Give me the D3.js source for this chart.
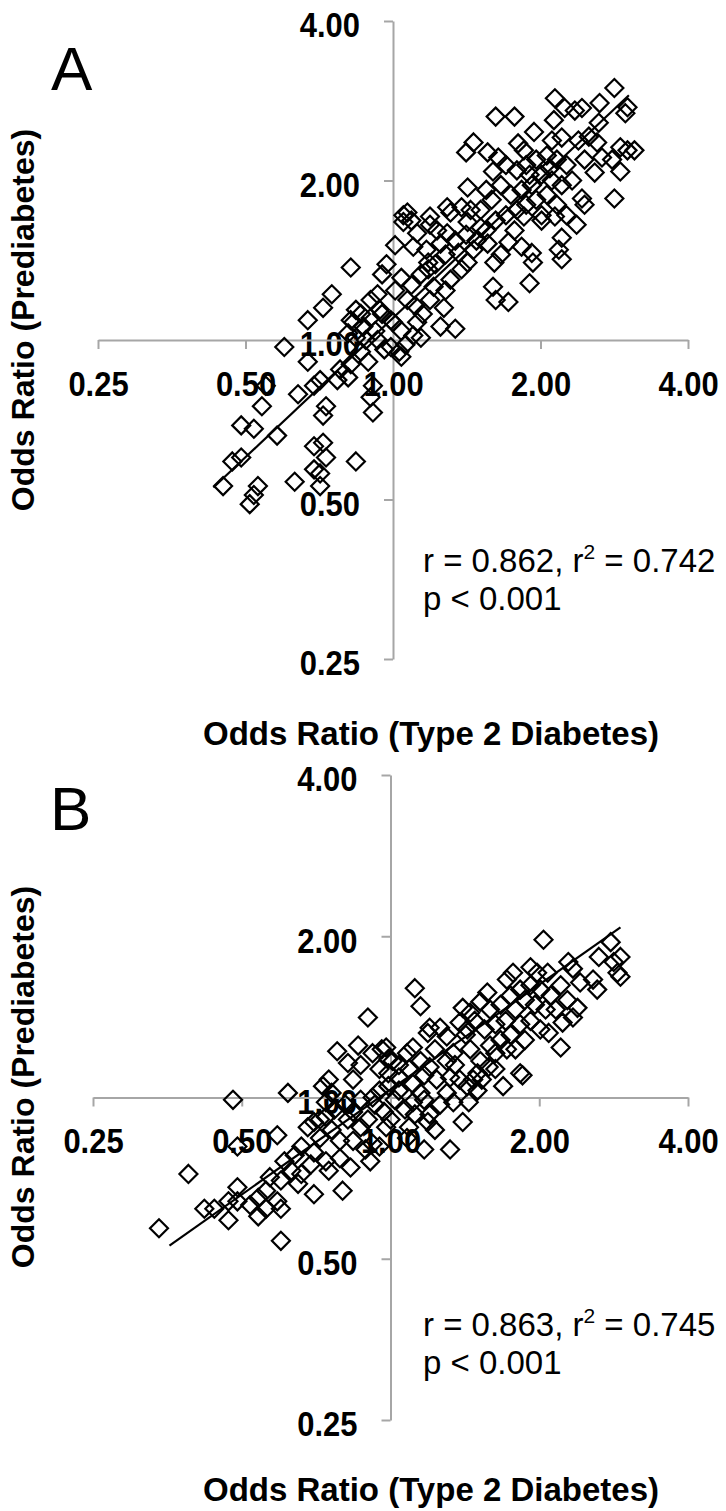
<!DOCTYPE html>
<html>
<head>
<meta charset="utf-8">
<script src="https://cdn.jsdelivr.net/npm/d3@7"></script>
<style>
  html, body { margin: 0; padding: 0; background: #fff; }
  svg { display: block; }
  text { font-family: "Liberation Sans", Arial, Helvetica, sans-serif; }
</style>
</head>
<body>
<svg id="chart" width="726" height="1511"></svg>
<script>
// ---------------- data ----------------
const tickValues = [0.25, 0.5, 1, 2, 4];
const tickLabels = ["0.25", "0.50", "1.00", "2.00", "4.00"];
const panelLabels = ["A", "B"];
const xTitle = "Odds Ratio (Type 2 Diabetes)";
const yTitle = "Odds Ratio (Prediabetes)";
const statsA = ["r = 0.862, r", "2", " = 0.742", "p < 0.001"];
const statsB = ["r = 0.863, r", "2", " = 0.745", "p < 0.001"];

// Panel A: odds ratios for type 2 diabetes (x) and prediabetes (y)
const t2dA = [2.83,2.14,1.62,1.77,2.24,2.43,2.35,2.64,3.01,2.98,
  2.13,2.63,1.94,1.46,1.41,1.56,1.64,1.80,1.85,2.11,
  2.21,2.39,2.51,2.61,2.91,3.01,3.11,2.46,2.67,2.80,
  2.58,2.91,1.60,1.42,2.43,2.83,1.07,1.19,1.29,1.38,
  1.70,1.79,1.87,1.96,2.06,2.16,2.26,2.01,2.11,1.92,
  1.83,1.74,1.66,2.21,2.32,2.06,1.96,1.87,1.79,1.70,
  1.59,1.51,1.62,2.16,2.26,2.01,2.37,2.09,1.90,1.55,
  0.82,0.97,0.95,1.04,1.05,1.09,1.05,1.19,1.12,1.10,
  1.18,1.18,1.25,1.29,1.31,1.42,1.36,1.42,1.46,1.51,
  1.56,1.61,1.66,1.72,1.77,1.83,1.92,1.93,1.85,2.01,
  2.14,2.21,2.18,2.21,2.46,1.60,1.90,1.62,1.72,1.34,
  1.27,1.21,1.31,1.15,1.12,1.14,0.90,0.86,0.83,0.81,
  0.94,0.99,1.04,1.07,1.25,1.09,1.14,1.22,1.28,1.34,
  1.41,1.48,1.55,1.38,1.28,1.19,1.11,1.01,0.93,1.17,
  1.23,1.44,1.01,0.60,0.67,0.72,0.75,0.67,0.55,0.54,
  0.49,0.52,0.58,0.47,0.49,0.45,0.53,0.52,0.51,0.63,
  0.69,0.72,0.73,0.69,0.71,0.71,0.84,0.64,0.69,0.71,
  0.73,0.72,0.77,0.78,0.81,0.82,0.86,0.89,0.91,0.90,
  0.91,0.84,0.87,0.90,0.95,1.00,0.99,1.04,0.93,0.82,
  0.84,1.06,1.03,1.10,0.96,0.92,0.88];
const preA = [2.99,2.86,2.64,2.64,2.74,2.74,2.71,2.80,2.75,2.68,
  2.60,2.57,2.47,2.36,2.26,2.26,2.21,2.35,2.28,2.38,
  2.41,2.38,2.42,2.36,2.31,2.28,2.28,2.19,2.21,2.19,
  2.07,2.08,2.08,1.94,1.85,1.85,1.74,1.71,1.78,1.78,
  2.14,2.09,2.14,2.19,2.23,2.19,2.14,2.05,2.00,1.96,
  1.92,1.88,1.96,1.96,2.00,1.88,1.84,1.80,1.76,1.72,
  1.84,1.76,1.68,1.80,1.72,1.72,1.65,2.11,2.05,1.92,
  1.37,1.39,1.33,1.31,1.72,1.68,1.67,1.65,1.59,1.50,
  1.40,1.36,1.52,1.59,1.74,1.67,1.46,1.40,1.48,1.63,
  1.52,1.40,1.45,1.53,1.61,1.50,1.46,1.40,1.71,1.68,
  1.71,1.56,1.48,1.42,1.80,1.26,1.28,1.19,1.18,1.05,
  1.15,1.26,1.30,1.12,1.08,1.01,1.19,1.12,1.08,1.03,
  1.14,1.09,1.04,1.19,1.06,1.27,1.33,1.39,1.45,1.54,
  1.58,1.54,1.61,1.36,1.24,1.19,1.16,1.24,1.22,1.48,
  1.61,1.76,1.51,0.97,1.09,1.15,1.22,0.91,0.82,0.75,
  0.69,0.68,0.66,0.59,0.60,0.53,0.53,0.51,0.49,0.54,
  0.63,0.64,0.60,0.57,0.56,0.53,0.59,0.79,0.82,0.84,
  0.75,0.72,0.84,0.88,0.85,0.90,0.95,0.91,0.82,0.78,
  0.73,1.01,1.06,1.10,1.12,1.08,0.97,0.93,1.00,1.09,
  1.14,0.98,0.95,1.02,0.96,1.04,1.00];
// power-law trendline (log2 space): [slope, intercept], drawn over [from, to]
const fitA = [0.873, 0.138];
const fitRangeA = [0.43, 3.03];

// Panel B
const t2dB = [2.04,1.12,1.15,2.29,2.34,2.64,2.79,2.92,2.83,2.88,
  2.92,2.57,2.62,2.42,2.21,1.92,1.98,1.77,1.72,2.08,
  1.57,1.52,1.40,1.45,2.28,2.39,2.34,2.23,2.09,2.21,
  1.83,1.69,1.63,1.72,1.50,1.53,1.59,1.67,1.75,1.83,
  1.92,2.01,2.11,1.87,1.79,1.71,1.63,1.55,1.48,1.96,
  2.06,1.92,1.83,1.75,1.67,1.59,2.01,1.87,1.79,1.42,
  2.16,1.45,1.52,1.20,1.19,1.26,1.30,1.38,1.43,1.11,
  1.08,0.98,1.01,1.15,1.20,1.30,1.34,1.24,1.32,1.04,
  1.11,1.43,1.50,1.15,1.30,1.85,1.63,1.44,1.40,1.32,
  1.17,1.23,1.19,1.20,1.09,1.08,0.97,0.91,1.11,1.17,
  1.26,1.34,1.47,1.58,0.90,0.78,0.82,0.86,0.87,0.92,
  0.96,0.99,0.95,0.99,0.75,0.73,0.76,0.84,0.92,0.95,
  0.99,0.48,0.62,0.59,0.49,0.39,0.34,0.44,0.47,0.49,
  0.49,0.54,0.54,0.56,0.59,0.60,0.57,0.60,0.63,0.66,
  0.69,0.70,0.80,0.68,0.70,0.66,0.72,0.74,0.76,0.79,
  0.70,0.74,0.79,0.83,0.84,0.87,0.89,0.92,0.95,1.00,
  0.98,0.90,0.82,0.84,0.74,0.60,0.47,0.42,1.04,1.09,
  1.17,1.23,1.35,1.38,1.04,1.02,1.07,1.12,0.81,0.77,
  0.87,0.93,0.72,0.64,0.61,0.65,0.75,0.56,0.52];
const preB = [1.97,1.60,1.48,1.79,1.74,1.83,1.95,1.83,1.79,1.71,
  1.68,1.66,1.59,1.64,1.62,1.75,1.71,1.71,1.66,1.71,
  1.57,1.51,1.47,1.44,1.52,1.47,1.41,1.38,1.32,1.24,
  1.11,1.05,1.21,1.23,1.11,1.08,1.46,1.49,1.55,1.59,
  1.62,1.59,1.55,1.52,1.46,1.39,1.37,1.34,1.39,1.49,
  1.46,1.39,1.37,1.31,1.28,1.25,1.34,1.28,1.23,1.31,
  1.46,1.23,1.17,1.35,1.32,1.35,1.30,1.38,1.34,1.24,
  1.21,1.24,1.17,1.17,1.14,1.17,1.21,1.08,1.09,1.09,
  1.06,1.05,1.03,1.02,1.02,1.10,1.13,0.98,0.90,0.80,
  0.80,0.87,0.90,0.93,0.88,0.84,0.94,0.76,0.98,0.99,
  0.97,0.98,1.08,1.14,1.41,1.22,1.16,1.25,1.15,1.21,
  1.23,1.18,1.13,1.11,1.08,1.05,1.02,1.08,1.00,1.03,
  1.05,0.99,1.02,0.85,0.81,0.72,0.57,0.62,0.64,0.68,
  0.64,0.60,0.65,0.62,0.64,0.62,0.71,0.70,0.73,0.72,
  0.75,0.66,0.67,0.88,0.90,0.81,0.84,0.92,0.87,0.83,
  0.79,0.76,0.77,0.74,0.83,0.88,0.80,0.82,0.81,0.91,
  0.88,0.91,0.91,0.94,0.98,0.54,0.59,0.62,1.15,1.13,
  1.10,1.23,1.15,1.08,1.03,0.99,0.95,0.93,0.97,0.95,
  0.99,0.97,0.91,0.78,0.76,0.69,0.73,0.67,0.63];
const fitB = [0.651, 0.049];
const fitRangeB = [0.357, 2.92];

// ---------------- drawing ----------------
const svg = d3.select("#chart");
svg.append("rect").attr("width", 726).attr("height", 1511).attr("fill", "#fff");

const AXIS = "#a6a6a6";
const FONT = '"Liberation Sans", Arial, sans-serif';
const SX = 0.86;   // horizontal squeeze of the tick labels
const panels = [
  { label: panelLabels[0], xs: t2dA, ys: preA, fit: fitA, fitRange: fitRangeA, stats: statsA,
    xRange: [98, 688], yRange: [659, 21], labelPos: [51, 90], statY: 572,
    titleX: 745, titleY: 320 },
  { label: panelLabels[1], xs: t2dB, ys: preB, fit: fitB, fitRange: fitRangeB, stats: statsB,
    xRange: [93, 688], yRange: [1420, 775], labelPos: [50, 830], statY: 1336,
    titleX: 1501, titleY: 1077 }
];

panels.forEach(p => {
  const x = d3.scaleLog().base(2).domain([0.25, 4]).range(p.xRange);
  const y = d3.scaleLog().base(2).domain([0.25, 4]).range(p.yRange);
  const g = svg.append("g");
  const x0 = x(1), y0 = y(1);

  // y axis (crosses at x = 1)
  const yAxis = g.append("g").attr("transform", `translate(${x0},0)`)
    .call(d3.axisLeft(y).tickValues(tickValues).tickFormat((d, i) => tickLabels[i])
      .tickSize(9).tickSizeOuter(0).tickPadding(24));
  // x axis (crosses at y = 1)
  const xAxis = g.append("g").attr("transform", `translate(0,${y0})`)
    .call(d3.axisBottom(x).tickValues(tickValues).tickFormat((d, i) => tickLabels[i])
      .tickSize(9).tickSizeOuter(0).tickPadding(21));
  [yAxis, xAxis].forEach(a => {
    a.select(".domain").attr("stroke", AXIS).attr("stroke-width", 2);
    a.selectAll(".tick line").attr("stroke", AXIS).attr("stroke-width", 2);
    a.selectAll(".tick text").attr("fill", "#000")
      .style("font-family", FONT)
      .style("font-size", "36px").style("font-weight", "bold")
      .attr("transform", `scale(${SX},1)`);
  });
  yAxis.selectAll(".tick text").attr("dy", "0.44em").attr("x", -33 / SX);

  // markers
  const n = Math.min(p.xs.length, p.ys.length);
  const pts = d3.range(n).map(i => [p.xs[i], p.ys[i]]);
  g.append("g").selectAll("path").data(pts).join("path")
    .attr("transform", d => `translate(${x(d[0])},${y(d[1])})`)
    .attr("d", "M0,-9L9,0L0,9L-9,0Z")
    .attr("fill", "none").attr("stroke", "#000").attr("stroke-width", 2.2);

  // trendline
  const fitPts = p.fitRange.map(v => [v, Math.pow(2, p.fit[1] + p.fit[0] * Math.log2(v))]);
  g.append("path").datum(fitPts)
    .attr("d", d3.line().x(d => x(d[0])).y(d => y(d[1])))
    .attr("fill", "none").attr("stroke", "#000").attr("stroke-width", 2.2);

  // panel label
  g.append("text").attr("x", p.labelPos[0]).attr("y", p.labelPos[1])
    .attr("font-size", 62).attr("fill", "#000").text(p.label);

  // stats
  const st = g.append("text").attr("x", 423).attr("y", p.statY)
    .attr("font-size", 33).attr("fill", "#000");
  st.append("tspan").text(p.stats[0]);
  st.append("tspan").attr("dy", -13).attr("font-size", 21).text(p.stats[1]);
  st.append("tspan").attr("dy", 13).text(p.stats[2]);
  g.append("text").attr("x", 423).attr("y", p.statY + 38)
    .attr("font-size", 33).attr("fill", "#000").text(p.stats[3]);

  // axis titles
  g.append("text").attr("x", 431).attr("y", p.titleX)
    .attr("text-anchor", "middle").attr("font-size", 33).attr("font-weight", "bold")
    .attr("fill", "#000").text(xTitle);
  g.append("text").attr("transform", `translate(34,${p.titleY}) rotate(-90)`)
    .attr("text-anchor", "middle").attr("font-size", 32).attr("font-weight", "bold")
    .attr("fill", "#000").text(yTitle);
});
</script>
</body>
</html>
